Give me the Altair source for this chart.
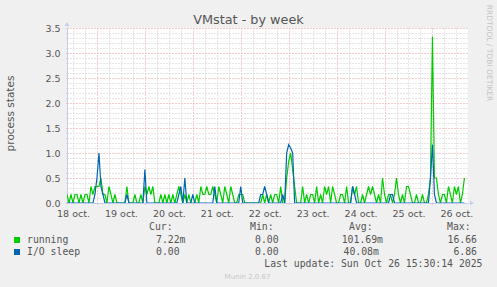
import json
import altair as alt
import pandas as pd

# ---- data (one sample per hour, hours since 18 Oct 00:00) ----
hours = list(range(9, 209))
running = [
    0.17, 0, 0.17, 0, 0.17, 0.17, 0, 0.17, 0, 0.17,
    0.17, 0, 0.33, 0.17, 0.33, 0.33, 0.33, 0.5, 0.17, 0.17,
    0, 0.33, 0.17, 0, 0.17, 0, 0, 0, 0, 0,
    0.33, 0, 0, 0, 0.17, 0, 0, 0.17, 0, 0.33,
    0.17, 0.33, 0.17, 0.33, 0, 0, 0, 0.17, 0, 0.17,
    0, 0.17, 0, 0.17, 0, 0.17, 0.33, 0.17, 0, 0.17,
    0, 0.17, 0, 0, 0, 0.17, 0, 0.33, 0.17, 0.17,
    0.33, 0.17, 0.17, 0.33, 0.17, 0, 0.33, 0.17, 0, 0.33,
    0.17, 0, 0.33, 0.17, 0, 0, 0.17, 0.17, 0.17, 0,
    0, 0, 0, 0, 0, 0, 0, 0, 0.17, 0,
    0.17, 0, 0.17, 0, 0.17, 0.17, 0, 0.33, 0, 0,
    0.5, 0.83, 1.0, 0.67, 0.33, 0, 0, 0, 0.33, 0,
    0.17, 0, 0.17, 0.17, 0, 0.33, 0, 0.17, 0, 0.33,
    0.17, 0.33, 0, 0.33, 0.17, 0, 0, 0.17, 0.17, 0,
    0.33, 0, 0, 0.33, 0.17, 0.33, 0, 0, 0.17, 0,
    0.17, 0.33, 0.17, 0.33, 0.17, 0, 0.17, 0, 0.5, 0.17,
    0, 0.17, 0.17, 0, 0.17, 0.5, 0.17, 0, 0.17, 0,
    0.33, 0.33, 0.17, 0, 0, 0.17, 0, 0, 0.17, 0,
    0, 0.17, 0.5, 3.33, 0.5, 0.5, 0.17, 0, 0.17, 0.17,
    0, 0.33, 0.17, 0, 0.33, 0.17, 0.33, 0, 0.17, 0.5,
]
io_sleep = [
    0, 0, 0, 0, 0, 0, 0, 0, 0, 0,
    0, 0, 0, 0, 0.17, 0.5, 1.0, 0.33, 0.17, 0,
    0, 0, 0, 0, 0, 0, 0, 0, 0, 0,
    0.17, 0, 0, 0, 0, 0, 0, 0, 0, 0.67,
    0, 0, 0, 0, 0, 0, 0, 0, 0, 0,
    0, 0, 0, 0, 0, 0, 0.17, 0.33, 0, 0.5,
    0, 0, 0, 0.17, 0, 0, 0, 0, 0, 0,
    0, 0, 0, 0, 0.33, 0, 0, 0, 0, 0,
    0, 0, 0, 0, 0, 0, 0, 0.33, 0, 0,
    0, 0, 0, 0, 0, 0, 0, 0.17, 0.17, 0.33,
    0.17, 0, 0, 0, 0, 0, 0, 0, 0.17, 0,
    1.0, 1.17, 1.1, 1.0, 0, 0, 0, 0, 0, 0,
    0, 0, 0, 0, 0, 0, 0, 0, 0, 0,
    0, 0, 0, 0, 0, 0, 0, 0, 0, 0,
    0, 0, 0, 0.33, 0.17, 0, 0, 0, 0, 0,
    0, 0, 0, 0, 0, 0, 0, 0, 0, 0,
    0, 0, 0.17, 0.17, 0, 0, 0, 0, 0, 0,
    0, 0, 0, 0, 0, 0, 0, 0, 0, 0,
    0, 0, 0.5, 1.17, 0.17, 0, 0, 0, 0, 0,
    0, 0, 0, 0, 0, 0, 0, 0, 0, 0,
]
day_labels = ["18 oct.", "19 oct.", "20 oct.", "21 oct.", "22 oct.",
              "23 oct.", "24 oct.", "25 oct.", "26 oct."]
series_names = ["running", "I/O sleep"]
series_colors = ["#00CC00", "#0066B3"]
cur_vals = ["7.22m", "0.00"]
min_vals = ["0.00", "0.00"]
avg_vals = ["101.69m", "40.08m"]
max_vals = ["16.66", "6.86"]
title_text = "VMstat - by week"
y_title = "process states"
last_update = "Last update: Sun Oct 26 15:30:14 2025"
footer = "Munin 2.0.67"
side_text = "RRDTOOL / TOBI OETIKER"

# ---- chart ----
W, H = 401, 175
df = pd.DataFrame({
    "h": hours * 2,
    "v": running + io_sleep,
    "s": [series_names[0]] * len(hours) + [series_names[1]] * len(hours),
})

MAJOR = "#E59C9C"
MINOR = "#CCCCCC"
x_vals = list(range(12, 209, 6))
y_vals = [round(k * 0.1, 1) for k in range(36)]
x_test = "datum.value % 24 == 0"
y_test = "round(datum.value * 10) % 5 == 0"

x_axis = alt.Axis(
    values=x_vals,
    labelExpr="datum.value % 24 == 12 ? " + json.dumps(day_labels) + "[floor(datum.value / 24)] : ''",
    gridColor={"condition": {"test": x_test, "value": MAJOR}, "value": MINOR},
    tickColor={"condition": {"test": x_test, "value": MAJOR}, "value": MINOR},
    gridDash=[1, 2], tickDash=[1, 2], tickSize=3, labelPadding=2,
    domainColor="#C4CCEE", domainWidth=1,
    labelFont="DejaVu Sans", labelFontSize=9.5, labelColor="#555555",
    labelOverlap=False, labelFlush=False, title=None,
)
y_axis = alt.Axis(
    values=y_vals,
    labelExpr=y_test + " ? format(datum.value, '.1f') : ''",
    gridColor={"condition": {"test": y_test, "value": MAJOR}, "value": MINOR},
    tickColor={"condition": {"test": y_test, "value": MAJOR}, "value": MINOR},
    gridDash=[1, 2], tickDash=[1, 2], tickSize=3, labelPadding=4,
    domainColor="#C4CCEE", domainWidth=1,
    labelFont="DejaVu Sans", labelFontSize=9.5, labelColor="#555555",
    labelOverlap=False, title=None,
)
xs = alt.Scale(domain=[9, 209.8], nice=False, zero=False)
ys = alt.Scale(domain=[0, 3.5], nice=False)

base = alt.Chart(df)
layers = []
for name, col in zip(series_names, series_colors):
    layers.append(
        base.transform_filter(alt.datum.s == name)
        .mark_line(color=col, strokeWidth=1.2, clip=True)
        .encode(x=alt.X("h:Q", scale=xs, axis=x_axis), y=alt.Y("v:Q", scale=ys, axis=y_axis))
    )

one = pd.DataFrame({"a": [0]})


def txt(s, x, y, size=9.8, font="DejaVu Sans Mono", color="#555555", align="left", angle=0, baseline="middle"):
    return alt.Chart(one).mark_text(
        font=font, fontSize=size, color=color, align=align, baseline=baseline, angle=angle
    ).encode(x=alt.value(x), y=alt.value(y), text=alt.value(s))


# axis arrows
layers.append(alt.Chart(one).mark_point(shape="triangle-up", filled=True, size=22, color="#C4CCEE", opacity=1)
              .encode(x=alt.value(0), y=alt.value(-4)))
layers.append(alt.Chart(one).mark_point(shape="triangle-right", filled=True, size=22, color="#C4CCEE", opacity=1)
              .encode(x=alt.value(W + 4), y=alt.value(H)))

# titles
layers.append(txt(title_text, 181.5, -4, size=12.8, font="DejaVu Sans", color="#555555", align="center", baseline="alphabetic"))
layers.append(txt(y_title, -56, H / 2 - 2, size=10.5, font="DejaVu Sans", color="#555555", align="center", angle=270))
layers.append(txt(side_text, 421.5, 25, size=7.5, font="DejaVu Sans", color="#C4C4C4", align="center", angle=90))

# legend table
layers.append(txt("Cur:", 82, 199))
layers.append(txt("Min:", 183, 199))
layers.append(txt("Avg:", 282, 199))
layers.append(txt("Max:", 380, 199))
avg_x = [274.7, 276.5]
max_x = [410, 410]
for i, name in enumerate(series_names):
    yy = 212 + 12 * i
    layers.append(alt.Chart(one).mark_square(size=36, color=series_colors[i], opacity=1)
                  .encode(x=alt.value(-50), y=alt.value(yy)))
    layers.append(txt(name, -40, yy))
    layers.append(txt(cur_vals[i], 89, yy))
    layers.append(txt(min_vals[i], 188, yy))
    layers.append(txt(avg_vals[i], avg_x[i], yy))
    layers.append(txt(max_vals[i], max_x[i], yy, align="right"))

layers.append(txt(last_update, 415.5, 235.5, align="right"))
layers.append(txt(footer, 180.5, 248.5, size=7, font="DejaVu Sans", color="#C8C8C8", align="center"))

chart = alt.layer(*layers).properties(
    width=W, height=H,
    padding={"left": 67, "top": 28, "right": 29, "bottom": 84},
    autosize=alt.AutoSizeParams(type="none"),
    background="#F0F0F0",
).configure_view(fill="white", strokeWidth=0)

chart.save("out.html", embed_options={"renderer": "svg", "actions": False})
